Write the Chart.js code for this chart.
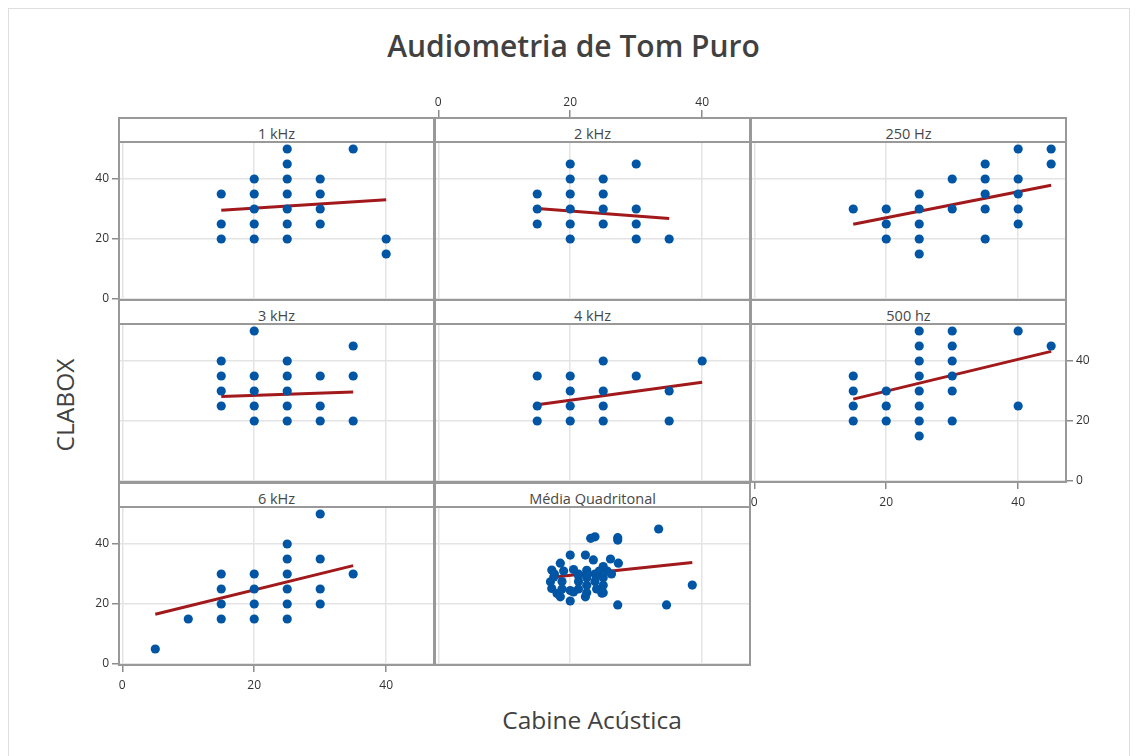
<!DOCTYPE html>
<html>
<head>
<meta charset="utf-8">
<title>Audiometria de Tom Puro</title>
<script src="https://cdn.jsdelivr.net/npm/chart.js@4.4.0/dist/chart.umd.min.js"></script>
<style>
  html, body { margin: 0; padding: 0; background: #fff; }
  body { width: 1137px; height: 756px; position: relative; overflow: hidden; font-family: 'Open Sans', sans-serif; }
  #frame { position: absolute; left: 8px; top: 8px; width: 1120px; height: 780px; border: 1px solid #dedede; }
  #title { position: absolute; left: 0; top: 25px; width: 1147px; text-align: center; font-size: 30px; font-weight: 600; color: #414141; }
  #xlab { position: absolute; left: 0; top: 703px; width: 1184px; text-align: center; font-size: 24.5px; color: #414141; }
  #ylab { position: absolute; left: 64px; top: 405px; transform: translate(-50%, -50%) rotate(-90deg); font-size: 24.5px; color: #414141; white-space: nowrap; }
  canvas { position: absolute; }
  .box { position: absolute; box-sizing: border-box; border: 2px solid #999; pointer-events: none; }
  .strip { background: #fff; text-align: center; font-size: 14.5px; color: #474747; line-height: 30px; overflow: visible; white-space: nowrap; }
</style>
</head>
<body>
<div id="frame"></div>
<div id="title">Audiometria de Tom Puro</div>
<div id="ylab">CLABOX</div>
<div id="xlab">Cabine Acústica</div>
<div id="panels"></div>
<script>
// ---- data: Cabine Acústica (x) vs CLABOX (y), dB, per frequency ----
const panelTitles = ['1 kHz', '2 kHz', '250 Hz', '3 kHz', '4 kHz', '500 hz', '6 kHz', 'Média Quadritonal'];
const xTicks = [0, 20, 40];
const yTicks = [0, 20, 40];

const cabine1k = [15, 15, 15, 20, 20, 20, 20, 20, 25, 25, 25, 25, 25, 25, 25, 30, 30, 30, 30, 35, 40, 40];
const clabox1k = [35, 25, 20, 40, 35, 30, 25, 20, 50, 45, 40, 35, 30, 25, 20, 40, 35, 30, 25, 50, 20, 15];
const fitX1k = [15, 40];
const fitY1k = [29.6, 33.1];

const cabine2k = [15, 15, 15, 20, 20, 20, 20, 20, 20, 25, 25, 25, 25, 30, 30, 30, 30, 35];
const clabox2k = [35, 30, 25, 45, 40, 35, 30, 25, 20, 40, 35, 30, 25, 45, 30, 25, 20, 20];
const fitX2k = [15, 35];
const fitY2k = [30.2, 26.8];

const cabine250 = [15, 20, 20, 20, 25, 25, 25, 25, 25, 30, 30, 35, 35, 35, 35, 35, 40, 40, 40, 40, 40, 45, 45];
const clabox250 = [30, 30, 25, 20, 35, 30, 25, 20, 15, 40, 30, 45, 40, 35, 30, 20, 50, 40, 35, 30, 25, 50, 45];
const fitX250 = [15, 45];
const fitY250 = [24.9, 37.9];

const cabine3k = [15, 15, 15, 15, 20, 20, 20, 20, 20, 25, 25, 25, 25, 25, 30, 30, 30, 35, 35, 35];
const clabox3k = [40, 35, 30, 25, 50, 35, 30, 25, 20, 40, 35, 30, 25, 20, 35, 25, 20, 45, 35, 20];
const fitX3k = [15, 35];
const fitY3k = [28.2, 29.7];

const cabine4k = [15, 15, 15, 20, 20, 20, 20, 25, 25, 25, 25, 30, 35, 35, 40];
const clabox4k = [35, 25, 20, 35, 30, 25, 20, 40, 30, 25, 20, 35, 30, 20, 40];
const fitX4k = [15, 40];
const fitY4k = [25.4, 32.9];

const cabine500 = [15, 15, 15, 15, 20, 20, 20, 25, 25, 25, 25, 25, 25, 25, 25, 30, 30, 30, 30, 30, 30, 40, 40, 45];
const clabox500 = [35, 30, 25, 20, 30, 25, 20, 50, 45, 40, 35, 30, 25, 20, 15, 50, 45, 40, 35, 30, 20, 50, 25, 45];
const fitX500 = [15, 45];
const fitY500 = [27.3, 43.2];

const cabine6k = [5, 10, 15, 15, 15, 15, 20, 20, 20, 20, 25, 25, 25, 25, 25, 25, 30, 30, 30, 30, 35];
const clabox6k = [5, 15, 30, 25, 20, 15, 30, 25, 20, 15, 40, 35, 30, 25, 20, 15, 50, 35, 25, 20, 30];
const fitX6k = [5, 35];
const fitY6k = [16.6, 32.8];

const cabineMedia = [17.2, 17.0, 17.2, 17.5, 18.5, 18.5, 18.75, 18.75, 19.0, 20.0, 20.0, 20.0, 20.5, 21.25, 21.25, 21.25,
  22.3, 22.3, 22.5, 22.5, 22.5, 22.5, 23.1, 23.5, 23.75, 23.75, 23.75, 24.0, 24.8, 25.0, 25.0, 25.0, 25.0, 26.1, 26.25,
  27.2, 27.2, 27.3, 27.2, 33.4, 34.6, 38.5,
  21.25, 22.5, 24.0, 25.6, 20.5, 17.6, 18.0, 24.4];
const claboxMedia = [31.3, 27.4, 25.2, 29.0, 22.4, 33.6, 27.5, 25.0, 31.0, 21.0, 36.3, 24.5, 24.0, 30.0, 27.5, 25.0,
  22.4, 36.3, 31.25, 28.75, 26.25, 23.75, 41.9, 34.7, 42.4, 30.0, 27.5, 25.0, 23.6, 32.5, 28.75, 26.25, 23.75, 35.0, 30.0,
  42.1, 41.3, 33.6, 19.7, 45.0, 19.7, 26.3,
  29.5, 30.0, 29.5, 31.0, 31.5, 30.0, 23.5, 31.0];
const fitXMedia = [17.2, 38.5];
const fitYMedia = [28.9, 33.8];

// ---- panel grid layout ----
const COL_LEFT = [119, 435, 751];
const ROW_TOP = [142, 324, 507];
const PLOT_W = 315, PLOT_H = 158, STRIP_H = 24, M = 50;
const X_MIN = -0.5, X_MAX = 47.25, Y_MIN = -0.33, Y_MAX = 52.33;

const panels = [
  { x: cabine1k, y: clabox1k, fx: fitX1k, fy: fitY1k, row: 0, col: 0, xAxis: null, yAxis: 'left' },
  { x: cabine2k, y: clabox2k, fx: fitX2k, fy: fitY2k, row: 0, col: 1, xAxis: 'top', yAxis: null },
  { x: cabine250, y: clabox250, fx: fitX250, fy: fitY250, row: 0, col: 2, xAxis: null, yAxis: null },
  { x: cabine3k, y: clabox3k, fx: fitX3k, fy: fitY3k, row: 1, col: 0, xAxis: null, yAxis: null },
  { x: cabine4k, y: clabox4k, fx: fitX4k, fy: fitY4k, row: 1, col: 1, xAxis: null, yAxis: null },
  { x: cabine500, y: clabox500, fx: fitX500, fy: fitY500, row: 1, col: 2, xAxis: 'bottom', yAxis: 'right' },
  { x: cabine6k, y: clabox6k, fx: fitX6k, fy: fitY6k, row: 2, col: 0, xAxis: 'bottom', yAxis: 'left' },
  { x: cabineMedia, y: claboxMedia, fx: fitXMedia, fy: fitYMedia, row: 2, col: 1, xAxis: null, yAxis: null }
];

Chart.defaults.font.family = "'Open Sans', sans-serif";
Chart.defaults.font.size = 12;
Chart.defaults.color = '#333';

const host = document.getElementById('panels');
const GRID = '#e4e4e4';
const TICK = '#8c8c8c';

panels.forEach((p, i) => {
  const left = COL_LEFT[p.col], top = ROW_TOP[p.row];

  const cv = document.createElement('canvas');
  cv.width = PLOT_W + 2 * M; cv.height = PLOT_H + 2 * M;
  cv.style.left = (left - M) + 'px'; cv.style.top = (top - M) + 'px';
  cv.style.width = cv.width + 'px'; cv.style.height = cv.height + 'px';
  host.appendChild(cv);

  const xPos = p.xAxis || 'bottom';
  const yPos = p.yAxis || 'left';
  const xTickLen = p.xAxis === 'top' ? 32 : 7;

  new Chart(cv, {
    type: 'scatter',
    data: {
      datasets: [
        {
          data: p.x.map((v, k) => ({ x: v, y: p.y[k] })),
          backgroundColor: '#0055a5', borderColor: '#0055a5',
          pointRadius: 4.6, pointHoverRadius: 4.6, borderWidth: 0
        },
        {
          type: 'line',
          data: p.fx.map((v, k) => ({ x: v, y: p.fy[k] })),
          borderColor: '#a2191c', borderWidth: 3, pointRadius: 0, fill: false, tension: 0
        }
      ]
    },
    options: {
      responsive: false, animation: false, devicePixelRatio: 1, events: [],
      layout: {
        padding: {
          left: yPos === 'left' ? 0 : M, right: yPos === 'right' ? 0 : M,
          top: xPos === 'top' ? 0 : M, bottom: xPos === 'bottom' ? 0 : M
        }
      },
      plugins: { legend: { display: false }, tooltip: { enabled: false } },
      scales: {
        x: {
          type: 'linear', position: xPos, min: X_MIN, max: X_MAX,
          afterBuildTicks: s => { s.ticks = xTicks.map(v => ({ value: v })); },
          afterFit: s => { s.height = M; },
          ticks: { display: !!p.xAxis, padding: p.xAxis === 'top' ? 0 : 6, maxRotation: 0, color: '#333' },
          grid: { color: GRID, lineWidth: 1.5, drawTicks: !!p.xAxis, tickLength: xTickLen, tickColor: TICK, tickWidth: 1.5 },
          border: { display: false }
        },
        y: {
          type: 'linear', position: yPos, min: Y_MIN, max: Y_MAX,
          afterBuildTicks: s => { s.ticks = yTicks.map(v => ({ value: v })); },
          afterFit: s => { s.width = M; },
          ticks: { display: !!p.yAxis, padding: 3, color: '#333' },
          grid: { color: GRID, lineWidth: 1.5, drawTicks: !!p.yAxis, tickLength: 7, tickColor: TICK, tickWidth: 1.5 },
          border: { display: false }
        }
      }
    }
  });

  // strip header with the panel name
  const strip = document.createElement('div');
  strip.className = 'box strip';
  strip.style.left = (left - 1) + 'px';
  strip.style.top = (top - STRIP_H - 1) + 'px';
  strip.style.width = (PLOT_W + 2) + 'px';
  strip.style.height = (STRIP_H + 2) + 'px';
  strip.textContent = panelTitles[i];
  document.body.appendChild(strip);

  // plot frame
  const fr = document.createElement('div');
  fr.className = 'box';
  fr.style.left = (left - 1) + 'px';
  fr.style.top = (top - 1) + 'px';
  fr.style.width = (PLOT_W + 2) + 'px';
  fr.style.height = (PLOT_H + 2) + 'px';
  document.body.appendChild(fr);
});
</script>
</body>
</html>
